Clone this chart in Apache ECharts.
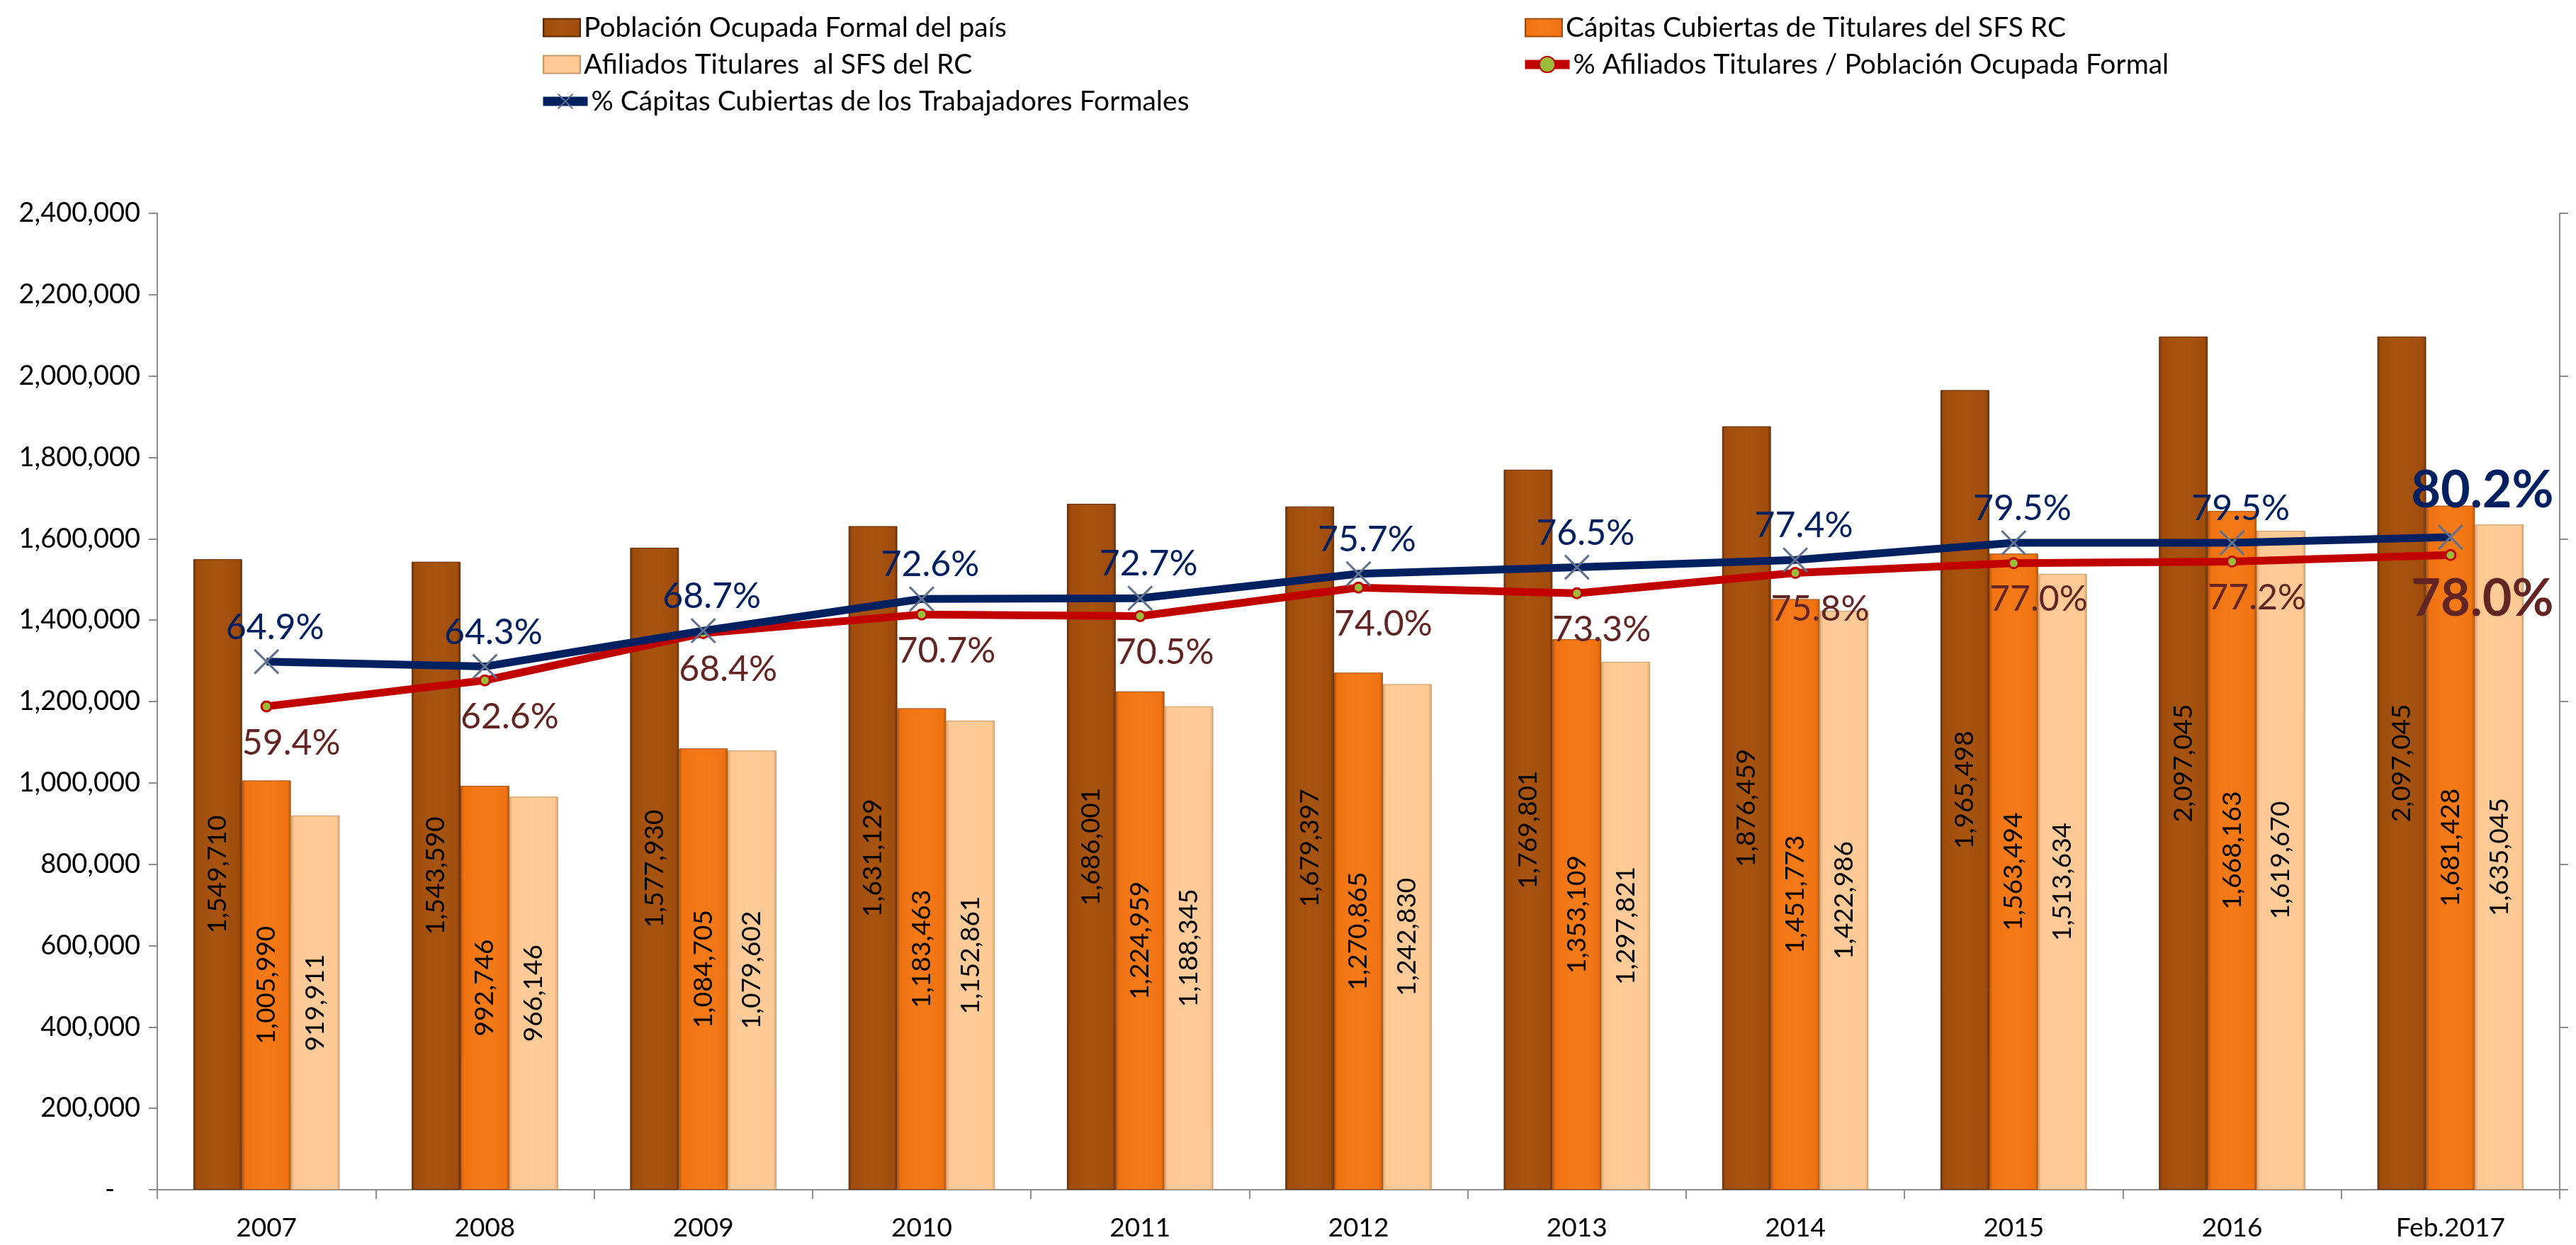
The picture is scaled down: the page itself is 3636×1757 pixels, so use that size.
<!DOCTYPE html>
<html>
<head>
<meta charset="utf-8">
<script src="https://cdn.jsdelivr.net/npm/echarts@6/dist/echarts.min.js"></script>
<style>
html,body{margin:0;padding:0;background:#fff;}
#chart{width:3636px;height:1757px;}
</style>
</head>
<body>
<div id="chart"></div>
<script>
const categories = ['2007','2008','2009','2010','2011','2012','2013','2014','2015','2016','Feb.2017'];
const poblacionOcupada = [1549710, 1543590, 1577930, 1631129, 1686001, 1679397, 1769801, 1876459, 1965498, 2097045, 2097045];
const capitasCubiertas = [1005990, 992746, 1084705, 1183463, 1224959, 1270865, 1353109, 1451773, 1563494, 1668163, 1681428];
const afiliadosTitulares = [919911, 966146, 1079602, 1152861, 1188345, 1242830, 1297821, 1422986, 1513634, 1619670, 1635045];
const pctAfiliados = [59.4, 62.6, 68.4, 70.7, 70.5, 74.0, 73.3, 75.8, 77.0, 77.2, 78.0];
const pctCapitas = [64.9, 64.3, 68.7, 72.6, 72.7, 75.7, 76.5, 77.4, 79.5, 79.5, 80.2];
const seriesNames = [
  'Población Ocupada Formal del país',
  'Cápitas Cubiertas de Titulares del SFS RC',
  'Afiliados Titulares  al SFS del RC',
  '% Afiliados Titulares / Población Ocupada Formal',
  '% Cápitas Cubiertas de los Trabajadores Formales'
];

const FONT = 'Lato';
const chart = echarts.init(document.getElementById('chart'));

function barGrad(edge, base, light) {
  return new echarts.graphic.LinearGradient(0, 0, 1, 0, [
    {offset: 0, color: edge},
    {offset: 0.07, color: base},
    {offset: 0.5, color: light},
    {offset: 0.93, color: base},
    {offset: 1, color: edge}
  ]);
}
const fmtNum = v => Number(v).toLocaleString('en-US');
const fmtPct = v => Number(v).toFixed(1) + '%';
const xPath = 'path://M0,0.6 L0.6,0 L5,4.4 L9.4,0 L10,0.6 L5.6,5 L10,9.4 L9.4,10 L5,5.6 L0.6,10 L0,9.4 L4.4,5 Z';

function barSeries(name, data, edge, base, light, border) {
  return {
    name, type: 'bar', data,
    barGap: '0%', barCategoryGap: '33%',
    itemStyle: {color: barGrad(edge, base, light), borderColor: border, borderWidth: 1},
    label: {show: true, position: 'inside', rotate: 90, formatter: p => fmtNum(p.value),
      color: '#000', fontSize: 37, fontFamily: FONT},
    z: 2
  };
}

const legendText = {fontSize: 39, lineHeight: 50, color: '#000', fontFamily: FONT};
function barLegend(name, left, top) {
  return {data: [name], left, top, icon: 'rect', itemWidth: 52, itemHeight: 25, textStyle: legendText};
}
function lineLegend(name, left, top) {
  return {data: [name], left, top, itemWidth: 63, itemHeight: 28,
    lineStyle: {width: 13}, textStyle: legendText};
}

const lastIdx = categories.length - 1;

const option = {
  backgroundColor: '#ffffff',
  animation: false,
  textStyle: {fontFamily: FONT},
  grid: {left: 222, right: 23, top: 301, bottom: 78, containLabel: false},
  legend: [
    barLegend(seriesNames[0], 761, 9),
    barLegend(seriesNames[2], 761, 61),
    lineLegend(seriesNames[4], 755, 113),
    barLegend(seriesNames[1], 2147, 9),
    lineLegend(seriesNames[3], 2141, 61)
  ],
  xAxis: {
    type: 'category', data: categories, boundaryGap: true,
    axisLine: {lineStyle: {color: '#8c8c8c', width: 2}},
    axisTick: {show: true, length: 13, lineStyle: {color: '#8c8c8c', width: 2}},
    axisLabel: {color: '#000', fontSize: 37, fontFamily: FONT, margin: 36}
  },
  yAxis: [
    {
      type: 'value', min: 0, max: 2400000, interval: 200000,
      splitLine: {show: false},
      axisLine: {show: true, lineStyle: {color: '#8c8c8c', width: 2}},
      axisTick: {show: true, length: 12, lineStyle: {color: '#8c8c8c', width: 2}},
      axisLabel: {color: '#000', fontSize: 38, fontFamily: FONT, margin: 24,
        formatter: v => v === 0 ? '{d|-}' : fmtNum(v),
        rich: {d: {fontSize: 38, fontFamily: FONT, color: '#000', padding: [0, 36, 0, 0]}}}
    },
    {
      type: 'value', min: 0, max: 120, interval: 20, position: 'right',
      splitLine: {show: false},
      axisLine: {show: true, lineStyle: {color: '#8c8c8c', width: 2}},
      axisTick: {show: true, length: 12, lineStyle: {color: '#8c8c8c', width: 2}},
      axisLabel: {show: false}
    }
  ],
  series: [
    barSeries(seriesNames[0], poblacionOcupada, '#6e3208', '#A04D0D', '#A85410', '#5a2a08'),
    barSeries(seriesNames[1], capitasCubiertas, '#b9560c', '#F07312', '#F47A18', '#a04d0d'),
    barSeries(seriesNames[2], afiliadosTitulares, '#d9a26e', '#FFC995', '#FFCB98', '#c89a6a'),
    {
      name: seriesNames[3], type: 'line', yAxisIndex: 1, z: 5,
      data: pctAfiliados.map((v, i) => i === lastIdx ? {value: v, label: {fontSize: 72, fontWeight: 'bold', offset: [45, 0]}} : v),
      symbol: 'circle', symbolSize: 14,
      lineStyle: {color: '#C00000', width: 11},
      itemStyle: {color: '#9BBB3B', borderColor: '#C00000', borderWidth: 3},
      label: {show: true, position: 'bottom', distance: 18, offset: [35, 0], formatter: p => fmtPct(p.value),
        color: '#632523', fontSize: 50, fontFamily: FONT}
    },
    {
      name: seriesNames[4], type: 'line', yAxisIndex: 1, z: 6,
      data: pctCapitas.map((v, i) => i === lastIdx ? {value: v, label: {fontSize: 72, fontWeight: 'bold', offset: [45, -6]}} : v),
      symbol: xPath, symbolSize: 36,
      lineStyle: {color: '#002060', width: 11},
      itemStyle: {color: '#60708f'},
      label: {show: true, position: 'top', distance: 5, offset: [12, 0], formatter: p => fmtPct(p.value),
        color: '#002060', fontSize: 50, fontFamily: FONT}
    }
  ]
};
chart.setOption(option);
</script>
</body>
</html>
